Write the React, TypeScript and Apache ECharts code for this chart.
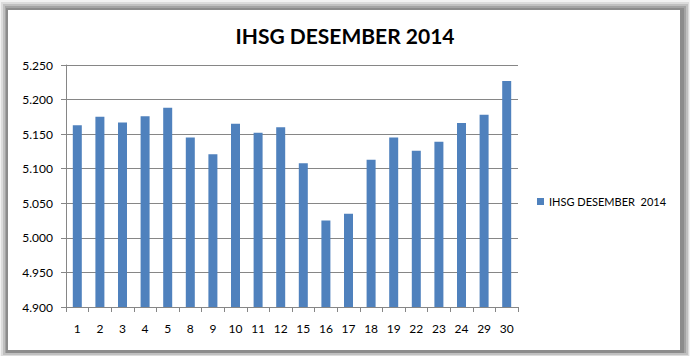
import React, { useEffect, useRef } from "react";
import * as echarts from "echarts";

const categories = ["1", "2", "3", "4", "5", "8", "9", "10", "11", "12", "15", "16", "17", "18", "19", "22", "23", "24", "29", "30"];
const values = [5163, 5175, 5167, 5176, 5188, 5145, 5121, 5165, 5152, 5160, 5108, 5025, 5035, 5113, 5145, 5126, 5139, 5166, 5178, 5227];
const seriesName = "IHSG DESEMBER  2014";
const titleText = "IHSG DESEMBER 2014";

export default function App() {
  const ref = useRef<HTMLDivElement>(null);
  useEffect(() => {
    if (!ref.current) return;
    const chart = echarts.init(ref.current, null, { renderer: "svg" });
    chart.setOption({
      animation: false,
      backgroundColor: "#ffffff",
      graphic: [
        { type: "rect", z: -10, shape: { x: 0, y: 0, width: 690, height: 356 }, style: { fill: "#f2f2f2" }, silent: true },
        { type: "rect", z: -9, shape: { x: 1, y: 2, width: 688, height: 354 }, style: { fill: "#dcdcdc" }, silent: true },
        { type: "rect", z: -8, shape: { x: 3, y: 4, width: 685, height: 351 }, style: { fill: "#c0c0c0" }, silent: true },
        { type: "rect", z: -7, shape: { x: 5, y: 6, width: 681, height: 347 }, style: { fill: "#a4a4a4" }, silent: true },
        { type: "rect", z: -6, shape: { x: 6, y: 8, width: 678, height: 345 }, style: { fill: "#8c8c8c" }, silent: true },
        { type: "rect", z: -5, shape: { x: 8, y: 10, width: 672, height: 340 }, style: { fill: "#ffffff" }, silent: true },
      ],
      title: {
        text: titleText,
        left: "center",
        top: 20,
        textStyle: { fontFamily: "Lato", fontWeight: "bold", fontSize: 21, color: "#000" },
      },
      legend: {
        data: [seriesName],
        left: 532,
        top: 191,
        orient: "vertical",
        icon: "rect",
        itemWidth: 7,
        itemHeight: 7,
        textStyle: { fontFamily: "Lato", fontSize: 11, color: "#000" },
      },
      grid: { left: 66, right: 172, top: 65, bottom: 49, containLabel: false },
      xAxis: {
        type: "category",
        data: categories,
        axisLine: { lineStyle: { color: "#868686", width: 1 } },
        axisTick: { show: true, length: 5, lineStyle: { color: "#868686" } },
        axisLabel: { margin: 15, fontFamily: "Lato", fontSize: 12, color: "#000" },
      },
      yAxis: {
        type: "value",
        min: 4900,
        max: 5250,
        interval: 50,
        axisLine: { show: true, lineStyle: { color: "#868686", width: 1 } },
        axisTick: { show: true, length: 5, lineStyle: { color: "#868686" } },
        splitLine: { lineStyle: { color: "#868686", width: 1 } },
        axisLabel: {
          margin: 13,
          fontFamily: "Lato",
          fontSize: 12,
          color: "#000",
          formatter: (v: number) => (v / 1000).toFixed(3),
        },
      },
      series: [
        {
          name: seriesName,
          type: "bar",
          data: values,
          barWidth: 9,
          itemStyle: { color: "#4f81bd" },
        },
      ],
    });
    return () => chart.dispose();
  }, []);
  return <div ref={ref} style={{ position: "fixed", left: 0, top: 0, width: 690, height: 356 }} />;
}
